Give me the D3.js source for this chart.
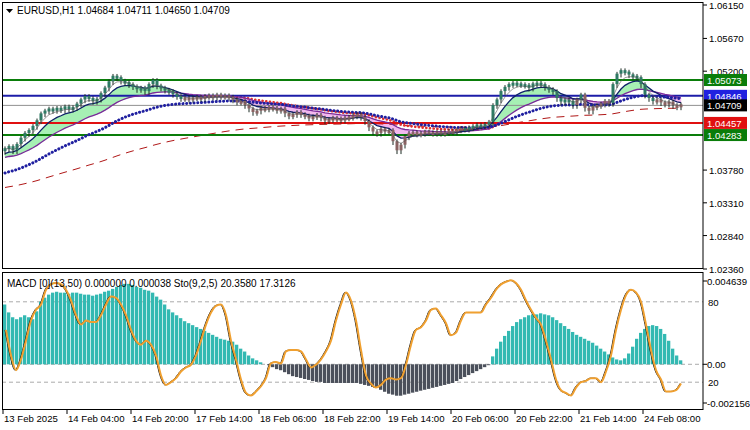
<!DOCTYPE html>
<html><head><meta charset="utf-8">
<script src="https://cdn.jsdelivr.net/npm/d3@7"></script>
<style>body{margin:0;background:#fff}svg{display:block}text{font-family:"Liberation Sans",Arial,sans-serif;font-size:10px}.ax{font-size:9.6px}</style>
</head><body><svg id="c" width="750" height="430"></svg>
<script>
const closes=[1.0408,1.0411,1.0405,1.0414,1.0423,1.0430,1.0434,1.0440,1.0448,1.0458,
1.0462,1.0465,1.0463,1.0466,1.0464,1.0468,1.0465,1.0467,1.0472,1.0478,
1.0483,1.0480,1.0476,1.0479,1.0487,1.0495,1.0504,1.0512,1.0510,1.0505,
1.0503,1.0500,1.0497,1.0493,1.0495,1.0490,1.0500,1.0506,1.0498,1.0495,
1.0492,1.0490,1.0486,1.0483,1.0480,1.0481,1.0479,1.0481,1.0482,1.0480,
1.0483,1.0484,1.0482,1.0485,1.0483,1.0484,1.0482,1.0478,1.0475,1.0476,
1.0470,1.0465,1.0460,1.0462,1.0466,1.0465,1.0467,1.0466,1.0463,1.0465,
1.0458,1.0455,1.0457,1.0460,1.0457,1.0455,1.0452,1.0454,1.0456,1.0452,
1.0448,1.0450,1.0452,1.0451,1.0449,1.0452,1.0453,1.0455,1.0457,1.0453,
1.0447,1.0438,1.0432,1.0430,1.0436,1.0433,1.0434,1.0418,1.0405,1.0413,
1.0425,1.0430,1.0431,1.0429,1.0430,1.0432,1.0431,1.0430,1.0432,1.0430,
1.0431,1.0433,1.0432,1.0435,1.0437,1.0436,1.0438,1.0440,1.0442,1.0441,
1.0443,1.0446,1.0470,1.0478,1.0490,1.0496,1.0500,1.0502,1.0501,1.0500,
1.0499,1.0495,1.0501,1.0502,1.0500,1.0496,1.0493,1.0490,1.0480,1.0475,
1.0478,1.0476,1.0470,1.0478,1.0485,1.0466,1.0462,1.0468,1.0470,1.0472,
1.0476,1.0473,1.0500,1.0515,1.0520,1.0518,1.0514,1.0512,1.0510,1.0500,
1.0485,1.0480,1.0476,1.0478,1.0474,1.0472,1.0475,1.0470,1.0468,1.0471];
const macd=[.00333,.00289,.00262,.00251,.00262,.00273,.00262,.00251,.00295,.00349,
.00371,.00388,.00399,.00404,.00399,.00399,.00393,.00399,.00399,.00393,
.00388,.00388,.00382,.00388,.00393,.00404,.00410,.00420,.00431,.00442,
.00448,.00448,.00442,.00431,.00426,.00415,.00410,.00399,.00377,.00360,
.00333,.00306,.00289,.00273,.00257,.00240,.00229,.00218,.00207,.00197,
.00186,.00175,.00164,.00153,.00142,.00137,.00131,.00126,.00109,.00087,
.00071,.00049,.00033,.00022,.00011,0,-.00005,-.00016,-.00027,-.00033,
-.00044,-.00055,-.00066,-.00071,-.00076,-.00082,-.00087,-.00093,-.00098,-.00098,
-.00104,-.00104,-.00104,-.00104,-.00104,-.00104,-.00104,-.00104,-.00104,-.00109,
-.00115,-.00120,-.00126,-.00131,-.00142,-.00153,-.00164,-.00169,-.00175,-.00175,
-.00169,-.00164,-.00158,-.00153,-.00147,-.00142,-.00137,-.00131,-.00126,-.00120,
-.00115,-.00109,-.00104,-.00093,-.00082,-.00071,-.00060,-.00049,-.00038,-.00027,
-.00016,-.00005,.00044,.00087,.00126,.00158,.00186,.00213,.00235,.00251,
.00262,.00273,.00278,.00278,.00284,.00278,.00273,.00262,.00246,.00229,
.00213,.00197,.00180,.00164,.00153,.00142,.00131,.00120,.00104,.00087,
.00071,.00055,.00038,.00027,.00022,.00033,.00060,.00098,.00142,.00175,
.00197,.00213,.00218,.00213,.00197,.00169,.00131,.00087,.00049,.00022];
const stoch=[59,40,29,37,51,66,74,78,89,93,94,93,89,81,70,63,66,65,65,70,78,84,83,78,70,59,51,48,51,48,40,25,18,20,23,28,31,33,40,51,63,72,77,78,70,51,37,22,12,10,13,17,23,34,35,34,43,44,44,43,37,31,33,37,43,51,66,78,87,81,66,44,25,19,16,18,22,23,22,23,33,48,59,61,66,74,75,70,64,55,57,66,72,72,72,72,78,83,89,93,95,96,94,89,81,74,68,63,51,37,22,14,12,10,16,20,21,23,23,20,28,40,59,74,85,89,87,80,63,44,29,22,13,13,14,19];
const levels=[{v:1.05073,c:"#0a7d0a",lab:"#0a7d0a"},{v:1.04846,c:"#1c1ca8",lab:"#2020e0"},{v:1.04709,c:"#909090",lab:"#000"},{v:1.04457,c:"#e01010",lab:"#e01010"},{v:1.04283,c:"#0a7d0a",lab:"#0a7d0a"}];
const priceTicks=[1.06150,1.05670,1.05200,1.03780,1.03310,1.02840,1.02360];
const timeLabels=["13 Feb 2025","14 Feb 04:00","14 Feb 20:00","17 Feb 14:00","18 Feb 06:00","18 Feb 22:00","19 Feb 14:00","20 Feb 06:00","20 Feb 22:00","21 Feb 14:00","24 Feb 08:00"];

const svg=d3.select("#c");
const n=closes.length;
const x=d3.scaleLinear().domain([0,1]).range([5,9]);
const y=d3.scaleLinear().domain([1.02360,1.06150]).range([269,5]);
const ym=d3.scaleLinear().domain([-0.002156,0.004639]).range([403,281]);
const ys=d3.scaleLinear().domain([0,100]).range([409,275]);
function ema(a,p,seed){let k=2/(p+1),e=seed??a[0];return a.map(v=>e=e+k*(v-e));}
const fast=ema(closes,8,1.0400), slow=ema(closes,21,1.0395), thin=ema(closes,4);
const blueDot=ema(closes,40,1.0372), redLong=ema(closes,110,1.0352), redDot=ema(closes,30,1.0470);

const defs=svg.append("defs");
defs.append("clipPath").attr("id","top").append("rect").attr("x",2).attr("y",2).attr("width",701).attr("height",266);
defs.append("clipPath").attr("id","bot").append("rect").attr("x",2).attr("y",273).attr("width",701).attr("height",136);
const g=svg.append("g").attr("clip-path","url(#top)");
for(let i=1;i<n;i++){
  const up=fast[i]>=slow[i];
  g.append("path").attr("d",`M${x(i-1)},${y(fast[i-1])}L${x(i)},${y(fast[i])}L${x(i)},${y(slow[i])}L${x(i-1)},${y(slow[i-1])}Z`)
   .attr("fill",up?"#a6f0b4":"#f2b8ee").attr("stroke",up?"#a6f0b4":"#f2b8ee").attr("stroke-width",0.5);
}
const line=(arr,yy)=>d3.line().x((d,i)=>x(i)).y(d=>yy(d))(arr);
g.append("path").attr("d",line(redLong,y)).attr("fill","none").attr("stroke","#b01818").attr("stroke-width",1).attr("stroke-dasharray","8,6");
g.append("path").attr("d",d3.line().x(d=>x(d[0])).y(d=>y(d[1]))(redDot.map((v,i)=>[i,v]).filter(d=>d[0]>=58&&d[0]<=124))).attr("fill","none").attr("stroke","#e03030").attr("stroke-width",2.6).attr("stroke-dasharray","0.1,3.6").attr("stroke-linecap","round");
levels.forEach(l=>g.append("line").attr("x1",2).attr("x2",703).attr("y1",y(l.v)).attr("y2",y(l.v)).attr("stroke",l.c).attr("stroke-width",l.lab=="#000"?1:2));
g.append("path").attr("d",line(slow,y)).attr("fill","none").attr("stroke","#7a2a9a").attr("stroke-width",1.3);
g.append("path").attr("d",line(fast,y)).attr("fill","none").attr("stroke","#10206a").attr("stroke-width",1.3);
g.append("path").attr("d",line(blueDot,y)).attr("fill","none").attr("stroke","#2020a0").attr("stroke-width",3).attr("stroke-dasharray","0.1,3.6").attr("stroke-linecap","round");
for(let i=0;i<n;i++){
  const o=i?closes[i-1]:closes[0]-0.0004,c=closes[i];
  const hi=Math.max(o,c)+0.0004,lo=Math.min(o,c)-0.0004;
  const col=fast[i]>=slow[i]?"#2e7a64":"#8a6262";
  g.append("line").attr("x1",x(i)).attr("x2",x(i)).attr("y1",y(hi)).attr("y2",y(lo)).attr("stroke","#1a2a22").attr("stroke-width",1);
  g.append("rect").attr("x",x(i)-1.5).attr("width",3).attr("y",y(Math.max(o,c))-1).attr("height",Math.max(3,Math.abs(y(o)-y(c)))).attr("fill",col);
}
g.append("path").attr("d",line(thin,y)).attr("fill","none").attr("stroke","#555").attr("stroke-width",0.6);
const b=svg.append("g").attr("clip-path","url(#bot)");
[ys(80),ys(20),ym(0)].forEach(v=>b.append("line").attr("x1",2).attr("x2",703).attr("y1",v).attr("y2",v).attr("stroke","#aaa").attr("stroke-dasharray","4,3"));
macd.forEach((v,i)=>b.append("rect").attr("x",x(i)-2).attr("width",3.3).attr("y",Math.min(ym(v),ym(0))).attr("height",Math.abs(ym(v)-ym(0))).attr("fill",v>=0?"#33b9b2":"#4b505b"));
const sx=i=>x(i*1.25);
b.append("path").attr("d",d3.line().curve(d3.curveMonotoneX).x((d,i)=>sx(i)).y(d=>ys(d))(stoch)).attr("fill","none").attr("stroke","#111").attr("stroke-width",1);
b.append("path").attr("d",d3.line().curve(d3.curveMonotoneX).x((d,i)=>sx(i)+1).y(d=>ys(d))(stoch)).attr("fill","none").attr("stroke","#f0a030").attr("stroke-width",2);
svg.append("rect").attr("x",2.5).attr("y",2.5).attr("width",700.5).attr("height",266).attr("fill","none").attr("stroke","#000");
svg.append("rect").attr("x",2.5).attr("y",272.5).attr("width",700.5).attr("height",137).attr("fill","none").attr("stroke","#000");
priceTicks.forEach(t=>{svg.append("line").attr("x1",703).attr("x2",707).attr("y1",y(t)).attr("y2",y(t)).attr("stroke","#000");
 svg.append("text").attr("class","ax").attr("x",709).attr("y",y(t)+4).text(t.toFixed(5));});
levels.forEach(l=>{svg.append("rect").attr("x",704).attr("y",y(l.v)-6).attr("width",43).attr("height",12).attr("fill",l.lab);
 svg.append("text").attr("class","ax").attr("x",707).attr("y",y(l.v)+4).attr("fill","#fff").text(l.v.toFixed(5));});
[[0.004639,"0.004639"],[0,"0.00"],[-0.002156,"-0.002156"]].forEach(([v,t])=>{svg.append("line").attr("x1",703).attr("x2",707).attr("y1",ym(v)).attr("y2",ym(v)).attr("stroke","#000");svg.append("text").attr("class","ax").attr("x",707).attr("y",ym(v)+4).text(t);});
[[80,"80"],[20,"20"]].forEach(([v,t])=>svg.append("text").attr("class","ax").attr("x",708).attr("y",ys(v)+4).text(t));
timeLabels.forEach((t,k)=>{const xx=x(k*16)-2;svg.append("line").attr("x1",xx).attr("x2",xx).attr("y1",410).attr("y2",414).attr("stroke","#000");
 svg.append("text").attr("class","ax").attr("x",xx+1).attr("y",422).text(t);});
svg.append("path").attr("d","M6,9L13,9L9.5,13Z").attr("fill","#000");
svg.append("text").attr("x",17).attr("y",14).text("EURUSD,H1  1.04684 1.04711 1.04650 1.04709");
svg.append("text").attr("x",7).attr("y",287).text("MACD [0](13,50) 0.000000 0.000038  Sto(9,2,5) 20.3580 17.3126");
</script></body></html>
